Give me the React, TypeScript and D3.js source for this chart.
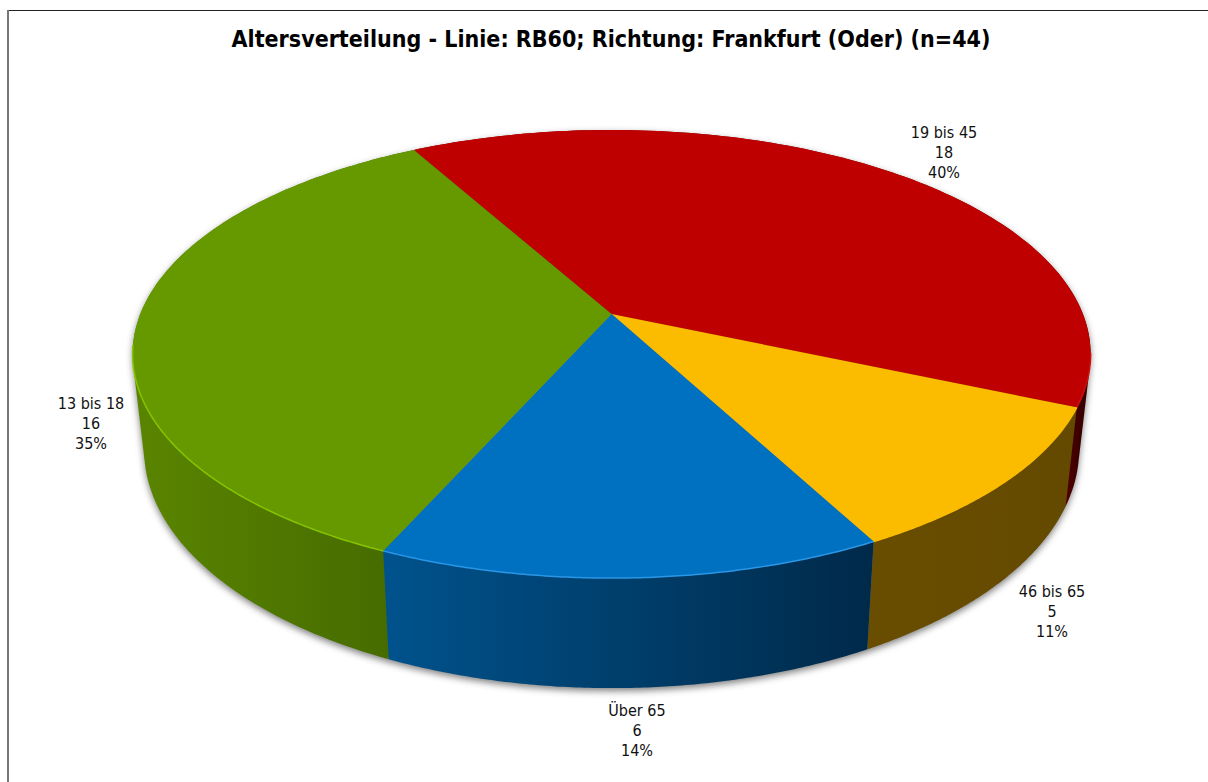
import React from "react";
import * as d3 from "d3";

// ---- data ----
const categories = ["19 bis 45", "46 bis 65", "Über 65", "13 bis 18"];
const counts = [18, 5, 6, 16];
const percentLabels = ["40%", "11%", "14%", "35%"];
// shares behind the slice sizes (unrounded)
const shares = [39.6, 10.7, 14.4, 35.3];
const titleText = "Altersverteilung - Linie: RB60; Richtung: Frankfurt (Oder) (n=44)";

// ---- styles and layout ----
const topColors = ["#BF0000", "#FBBC00", "#0070C0", "#669900"];
const rimColors = ["#D01010", "#FBBC00", "#2A96E6", "#86C400"];
const wallStops = [
  ["#7a0000", "#3a0000"],
  ["#694d00", "#644a00"],
  ["#00528c", "#002a4a"],
  ["#598400", "#466c00"],
];
const labelAnchors = [
  [944, 138],
  [1052, 597],
  [637, 716],
  [91, 409],
];
const labelFont = "'DejaVu Sans Condensed', 'DejaVu Sans', sans-serif";
const startDeg = -29;

// perspective model of the pie's top face
const cx = 611.6;
const apexY = 314;
const persp = 0.1786;
const ax = 471.3;
const by = 216.9;
// bottom face is the top face shifted down and slightly narrowed
const wallScaleX = 0.976;
const wallScaleY = 1.065;
const wallRefTop = 408;
const wallRefBottom = 507;
const rimFrom = (100 * Math.PI) / 180;
const rimTo = (262 * Math.PI) / 180;

type P = [number, number];
const topPoint = (a: number): P => {
  const u = Math.sin(a);
  const v = -Math.cos(a);
  const w = 1 - persp * v;
  return [cx + (ax * u) / w, apexY + (by * v) / w];
};
const bottomPoint = (a: number): P => {
  const [x, y] = topPoint(a);
  return [cx + (x - cx) * wallScaleX, wallRefBottom + (y - wallRefTop) * wallScaleY];
};

const line = d3.line<P>();
const sample = (a0: number, a1: number, f: (a: number) => P) =>
  d3.range(0, 121).map((i) => f(a0 + ((a1 - a0) * i) / 120));

const pie = d3
  .pie<number>()
  .sort(null)
  .startAngle((startDeg * Math.PI) / 180)
  .endAngle((startDeg * Math.PI) / 180 + 2 * Math.PI);
const arcs = pie(shares);

const apex: P = [cx, apexY];
const topPath = (a0: number, a1: number) => line([apex, ...sample(a0, a1, topPoint)])! + "Z";
const wallPath = (a0: number, a1: number) =>
  line([...sample(a0, a1, topPoint), ...sample(a1, a0, bottomPoint)])! + "Z";
// slices that reach the pie's side edges need the tangent from top rim to bottom rim
const hullPath = (a0: number, a1: number) =>
  line(d3.polygonHull([...sample(a0, a1, topPoint), ...sample(a0, a1, bottomPoint)]) as P[])! + "Z";
const hullSlices = [0, 3];
const plainSlices = [1, 2];

const silhouette =
  line(
    d3.polygonHull([
      ...sample(0, 2 * Math.PI, topPoint),
      ...sample(0, 2 * Math.PI, bottomPoint),
    ]) as P[]
  )! + "Z";

export default function App() {
  return (
    <svg
      width={1208}
      height={782}
      style={{ position: "absolute", left: 0, top: 0, display: "block", background: "#fff" }}
    >
      <defs>
        <filter id="soft" x="-10%" y="-10%" width="120%" height="120%">
          <feGaussianBlur stdDeviation="3.5" />
        </filter>
        <filter id="rim" x="-5%" y="-5%" width="110%" height="110%">
          <feGaussianBlur stdDeviation="0.5" />
        </filter>
        {arcs.map((d, i) => {
          const xs = sample(d.startAngle, d.endAngle, bottomPoint)
            .filter((p) => p[1] > 360)
            .map((p) => p[0]);
          return (
            <linearGradient
              key={i}
              id={`wall${i}`}
              gradientUnits="userSpaceOnUse"
              x1={d3.min(xs)}
              x2={d3.max(xs)}
              y1={0}
              y2={0}
            >
              <stop offset="0" stopColor={wallStops[i][0]} />
              <stop offset="1" stopColor={wallStops[i][1]} />
            </linearGradient>
          );
        })}
      </defs>

      <line x1={7} x2={1208} y1={10.5} y2={10.5} stroke="#222" strokeWidth={1} />
      <line x1={8} x2={8} y1={10} y2={782} stroke="#777" strokeWidth={2} />

      <text
        x={611}
        y={47}
        textAnchor="middle"
        fontFamily="'DejaVu Sans Condensed', 'DejaVu Sans', sans-serif"
        fontWeight="bold"
        fontSize={23}
        fill="#000"
      >
        {titleText}
      </text>

      <path d={silhouette} fill="#555" opacity={0.75} filter="url(#soft)" transform="translate(0,3)" />

      {hullSlices.map((i) => (
        <path key={i} d={hullPath(arcs[i].startAngle, arcs[i].endAngle)} fill={`url(#wall${i})`} />
      ))}
      {plainSlices.map((i) => (
        <path key={i} d={wallPath(arcs[i].startAngle, arcs[i].endAngle)} fill={`url(#wall${i})`} />
      ))}
      {arcs.map((d, i) => (
        <path key={i} d={topPath(d.startAngle, d.endAngle)} fill={topColors[i]} />
      ))}
      {arcs.map((d, i) => {
        const a0 = Math.max(d.startAngle, rimFrom);
        const a1 = Math.min(d.endAngle, rimTo);
        return a1 > a0 ? (
          <path
            key={i}
            d={line(sample(a0, a1, topPoint))!}
            fill="none"
            stroke={rimColors[i]}
            strokeWidth={1.5}
            filter="url(#rim)"
          />
        ) : null;
      })}

      {categories.map((c, i) => (
        <text
          key={c}
          x={labelAnchors[i][0]}
          y={labelAnchors[i][1]}
          textAnchor="middle"
          fontFamily={labelFont}
          fontSize={16}
          fill="#111"
        >
          <tspan x={labelAnchors[i][0]}>{c}</tspan>
          <tspan x={labelAnchors[i][0]} dy={20}>{counts[i]}</tspan>
          <tspan x={labelAnchors[i][0]} dy={20}>{percentLabels[i]}</tspan>
        </text>
      ))}
    </svg>
  );
}
